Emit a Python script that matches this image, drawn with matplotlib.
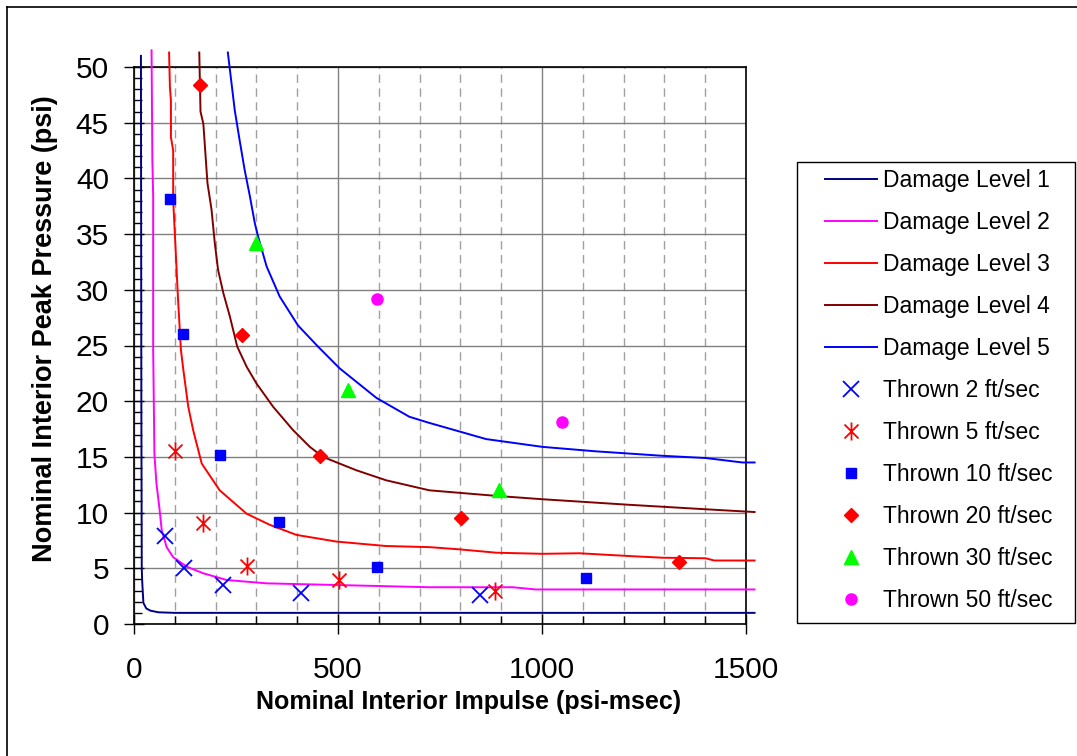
import numpy as np
import matplotlib.pyplot as plt
from matplotlib.path import Path
from matplotlib.lines import Line2D
from matplotlib.patches import Rectangle

plt.rcParams['font.family'] = ['Liberation Sans', 'DejaVu Sans']

# Damage level curves (impulse psi-msec, peak pressure psi)
dl1_x = [17, 18, 19, 20, 23, 30, 40, 60, 100, 1521]
dl1_y = [51, 20, 5, 3.9, 1.9, 1.4, 1.2, 1.05, 1.0, 1.0]

dl2_x = [43, 45, 47, 47, 50, 55, 62, 68, 80, 96, 129, 170, 227, 325, 496, 724, 928, 985, 1521]
dl2_y = [51.5, 41.6, 38.4, 24.6, 15.3, 12.6, 10.5, 8.4, 6.9, 6.0, 5.15, 4.55, 3.95, 3.65, 3.5, 3.3, 3.3, 3.1, 3.1]

dl3_x = [86, 88, 90.5, 90.5, 96, 96, 102, 108, 115, 121, 133, 145, 166, 210, 276, 333, 398, 496, 618,
         724, 798, 888, 1001, 1091, 1214, 1295, 1401, 1422, 1521]
dl3_y = [51.3, 48.2, 47.0, 43.7, 42.5, 38.1, 33.6, 29.1, 24.6, 22.8, 19.5, 17.4, 14.4, 12.0, 9.9, 8.9, 8.0, 7.4, 7.0,
         6.9, 6.7, 6.4, 6.3, 6.35, 6.1, 5.95, 5.9, 5.7, 5.7]

dl4_x = [160, 163, 170, 180, 190, 198, 206, 219, 235, 253, 276, 300, 341, 390, 431, 463, 504, 545, 618,
         724, 888, 1001, 1214, 1401, 1521]
dl4_y = [51.3, 46.0, 44.9, 39.6, 37.2, 34.2, 31.8, 29.7, 27.6, 24.9, 23.1, 21.6, 19.5, 17.4, 15.9, 15.0, 14.4, 13.8, 12.9,
         12.0, 11.5, 11.2, 10.7, 10.3, 10.05]

dl5_x = [230, 247, 259, 271, 284, 296, 304, 325, 357, 402, 451, 504, 594, 675, 724, 863, 1001, 1132, 1295, 1401, 1491, 1521]
dl5_y = [51.3, 46.1, 43.4, 40.8, 38.4, 36.0, 34.8, 32.1, 29.4, 26.8, 24.9, 22.95, 20.3, 18.6, 18.05, 16.6, 15.9, 15.5, 15.1, 14.9, 14.5, 14.5]

# Thrown observations
t2_x = [76, 123, 217, 410, 848]
t2_y = [7.9, 5.05, 3.5, 2.75, 2.6]
t5_x = [100, 170, 278, 502, 886]
t5_y = [15.55, 9.1, 5.2, 3.95, 3.0]
t10_x = [88, 121, 210, 356, 596, 1109]
t10_y = [38.15, 26.06, 15.17, 9.13, 5.1, 4.1]
t20_x = [161, 265, 457, 801, 1337]
t20_y = [48.4, 25.9, 15.08, 9.55, 5.57]
t30_x = [298, 524, 895]
t30_y = [34.2, 21.0, 12.0]
t50_x = [596, 1049]
t50_y = [29.17, 18.1]

# Excel-style asterisk marker (vertical bar plus X)
star = Path([(0, -1.1), (0, 1.1), (-0.85, -0.85), (0.85, 0.85), (-0.85, 0.85), (0.85, -0.85)],
            [Path.MOVETO, Path.LINETO, Path.MOVETO, Path.LINETO, Path.MOVETO, Path.LINETO])

W, H = 1077, 756
fig = plt.figure(figsize=(W / 100, H / 100), dpi=100)
ax = fig.add_axes([134 / W, 1 - 624 / H, (746 - 134) / W, (624 - 67) / H])

lw = 1.4
ax.plot(dl1_x, dl1_y, color='#000080', lw=lw, clip_on=False, label='Damage Level 1', zorder=3)
ax.plot(dl2_x, dl2_y, color='#FF00FF', lw=lw, clip_on=False, label='Damage Level 2', zorder=3)
ax.plot(dl3_x, dl3_y, color='#FF0000', lw=lw, clip_on=False, label='Damage Level 3', zorder=3)
ax.plot(dl4_x, dl4_y, color='#800000', lw=lw, clip_on=False, label='Damage Level 4', zorder=3)
ax.plot(dl5_x, dl5_y, color='#0000FF', lw=lw, clip_on=False, label='Damage Level 5', zorder=3)

ax.plot(t2_x, t2_y, ls='none', marker='x', ms=12, mew=1.3, color='#0000FF', label='Thrown 2 ft/sec', zorder=4)
ax.plot(t5_x, t5_y, ls='none', marker=star, ms=13, mew=1.3, color='#FF0000', label='Thrown 5 ft/sec', zorder=4)
ax.plot(t10_x, t10_y, ls='none', marker='s', ms=7.5, color='#0000FF', label='Thrown 10 ft/sec', zorder=4)
ax.plot(t20_x, t20_y, ls='none', marker='D', ms=7, color='#FF0000', label='Thrown 20 ft/sec', zorder=4)
ax.plot(t30_x, t30_y, ls='none', marker='^', ms=10, color='#00FF00', label='Thrown 30 ft/sec', zorder=4)
ax.plot(t50_x, t50_y, ls='none', marker='o', ms=8, color='#FF00FF', label='Thrown 50 ft/sec', zorder=4)

ax.set_xlim(0, 1500)
ax.set_ylim(0, 50)
ax.set_xticks([0, 500, 1000, 1500])
ax.set_xticks(np.arange(0, 1501, 100), minor=True)
ax.set_yticks(np.arange(0, 51, 5))
ax.set_yticks(np.arange(0, 51, 1), minor=True)

# grid: solid majors, dashed vertical minors
ax.grid(True, which='major', color='#808080', lw=1, ls='-', zorder=1)
ax.grid(True, which='minor', axis='x', color='#A0A0A0', lw=1, ls=(0, (6, 4)), zorder=1)

ax.tick_params(which='major', direction='inout', length=14, width=1, labelsize=21.5)
ax.tick_params(axis='y', which='major', pad=11)
ax.tick_params(axis='x', which='major', pad=16)
ax.tick_params(which='minor', direction='in', length=6, width=1)
for s in ax.spines.values():
    s.set_linewidth(1.2)
    s.set_color('black')

ax.set_xlabel('Nominal Interior Impulse (psi-msec)', fontsize=18, fontweight='bold')
ax.set_ylabel('Nominal Interior Peak Pressure (psi)', fontsize=19.5, fontweight='bold')
ax.xaxis.set_label_coords(0.546, -0.14)
ax.yaxis.set_label_coords(-0.145, 0.53)
ax.xaxis.label.set_va('center')
ax.yaxis.label.set_va('center')

fs = 16.5
leg = fig.legend(loc='upper left', bbox_to_anchor=(825 / W, 1 - 169 / H), fontsize=fs,
                 frameon=False, handlelength=2.27, labelspacing=0.83, borderpad=0,
                 borderaxespad=0, handletextpad=0.26)
fig.add_artist(Rectangle((797 / W, 1 - 623 / H), (1075 - 797) / W, (623 - 162) / H,
                         transform=fig.transFigure, fill=False, edgecolor='black', lw=1))

# outer chart border (left and top edges visible)
fig.add_artist(Line2D([7 / W, 7 / W], [0, 1 - 7 / H], color='black', lw=1.2))
fig.add_artist(Line2D([7 / W, 1], [1 - 7 / H, 1 - 7 / H], color='black', lw=1.2))

fig.savefig('out.png', dpi=100)
